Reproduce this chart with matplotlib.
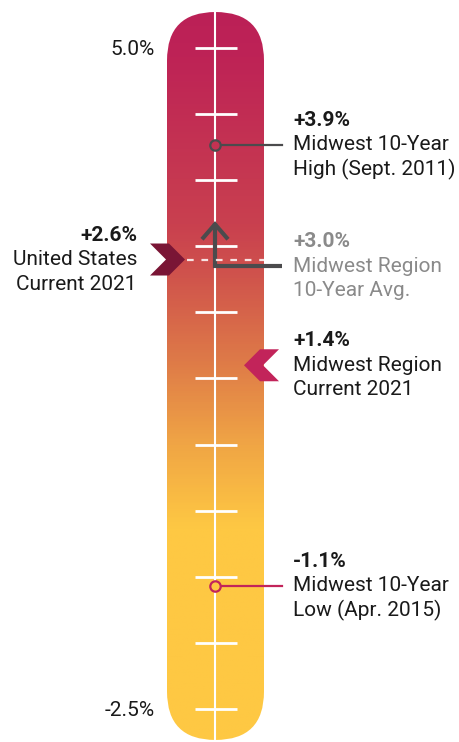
import numpy as np
import matplotlib
matplotlib.use('Agg')
from matplotlib import pyplot as plt
from matplotlib.colors import LinearSegmentedColormap
from matplotlib.patches import FancyBboxPatch, Polygon

plt.rcParams['font.family'] = ['Roboto', 'DejaVu Sans']

# scale of the thermometer (percent growth)
scale_min, scale_max = -2.5, 5.0
tick_values = [5.0, 4.25, 3.5, 2.75, 2.0, 1.25, 0.5, -0.25, -1.0, -1.75, -2.5]
tick_labels = {5.0: '5.0%', -2.5: '-2.5%'}

# annotated readings
high_value, high_text = 3.9, ['+3.9%', 'Midwest 10-Year', 'High (Sept. 2011)']
avg_value, avg_text = 3.0, ['+3.0%', 'Midwest Region', '10-Year Avg.']
us_value, us_text = 2.6, ['+2.6%', 'United States', 'Current 2021']
mw_value, mw_text = 1.4, ['+1.4%', 'Midwest Region', 'Current 2021']
low_value, low_text = -1.1, ['-1.1%', 'Midwest 10-Year', 'Low (Apr. 2015)']

# colour stops of the bar (value, colour)
grad_stops = [(5.45, '#BB2057'), (4.9, '#BE2356'), (3.0, '#C9404F'),
              (2.4, '#D0544C'), (1.45, '#DE7A48'), (0.5, '#F0A545'),
              (-0.45, '#FEC843'), (-2.9, '#FEC843')]

W, H = 459, 742
PX = 88.13                      # pixels per percentage point
TOP_PX = 48                     # pixel row of the 5.0% tick
FS = 15

fig = plt.figure(figsize=(W / 100, H / 100), dpi=100)
ax = fig.add_axes([0, 0, 1, 1])
ax.set_xlim(0, W)
ax.set_ylim(scale_max - (H - TOP_PX) / PX, scale_max + TOP_PX / PX)
ax.axis('off')


def dy(px):
    """vertical pixel distance as percentage points"""
    return px / PX


# gradient bar with rounded ends
bar_x0, bar_w = 167, 97
bar_top = scale_max + dy(36)
bar_bot = scale_min - dy(31)
bar = FancyBboxPatch((bar_x0, bar_bot), bar_w, bar_top - bar_bot,
                     boxstyle='round,pad=0,rounding_size=48.5',
                     mutation_aspect=1 / PX, fc='none', ec='none')
ax.add_patch(bar)

lo, hi = grad_stops[-1][0], grad_stops[0][0]
cmap = LinearSegmentedColormap.from_list(
    'bar', [((v - lo) / (hi - lo), c) for v, c in reversed(grad_stops)])
grid = np.linspace(hi, lo, 600).reshape(-1, 1)
img = ax.imshow(grid, cmap=cmap, vmin=lo, vmax=hi, aspect='auto',
                extent=(bar_x0, bar_x0 + bar_w, lo, hi), zorder=1)
img.set_clip_path(bar)


def bar_color(v):
    return cmap((v - lo) / (hi - lo))


cx = bar_x0 + bar_w / 2 - 0.5
ax.plot([cx, cx], [bar_bot, bar_top], color='white', lw=1.5, zorder=2,
        solid_capstyle='butt')
ax.hlines(tick_values, cx - 20, cx + 22, color='white', lw=2, zorder=2)

for v, s in tick_labels.items():
    ax.text(155, v - dy(1.5), s, ha='right', va='center', fontsize=FS,
            color='#1a1a1a')


def label(x, v, lines, ha='left', color='#1a1a1a'):
    # second line sits on the reading, value line above it
    for i, s in enumerate(lines):
        ax.text(x, v - dy(24.5 * (i - 1)), s, ha=ha, va='center',
                fontsize=FS, color=color,
                fontweight='bold' if i == 0 else 'normal')


def chevron(tip_x, v, direction, color):
    pts = [(0, 0), (16, 16), (35, 16), (19, 0), (35, -16), (16, -16)]
    xy = [(tip_x - direction * px, v + dy(py)) for px, py in pts]
    ax.add_patch(Polygon(xy, closed=True, fc=color, ec='none', zorder=4))


# 10-year high / low markers
for v, col in [(high_value, '#4B4B4D'), (low_value, '#C2245A')]:
    ax.plot([cx + 5, 282], [v, v], color=col, lw=1.6, zorder=3)
    ax.plot([cx], [v], marker='o', ms=7.5, mfc=bar_color(v), mec=col,
            mew=1.6, zorder=4)
label(293, high_value, high_text)
label(293, low_value, low_text)

# 10-year average: elbow arrow from the label up to the reading
arm = avg_value - dy(42)
ax.plot([282, cx, cx], [arm, arm, avg_value + dy(1)], color='#4B4B4D',
        lw=3, zorder=3, solid_joinstyle='miter', solid_capstyle='butt')
ax.plot([cx - 13, cx, cx + 13], [avg_value - dy(15), avg_value,
        avg_value - dy(15)], color='#4B4B4D', lw=3, zorder=3,
        solid_joinstyle='miter', solid_capstyle='butt')
label(293, arm, avg_text, color='#8A8A8A')

# United States current
ax.plot([187, bar_x0 + bar_w], [us_value, us_value], color='white',
        alpha=0.85, lw=1.6, ls=(0, (3, 3.5)), zorder=3)
chevron(185, us_value, 1, '#7A1535')
label(137, us_value, us_text, ha='right')

# Midwest current
chevron(244, mw_value, -1, '#C2245A')
label(293, mw_value, mw_text)

fig.savefig('out.png', dpi=100)
